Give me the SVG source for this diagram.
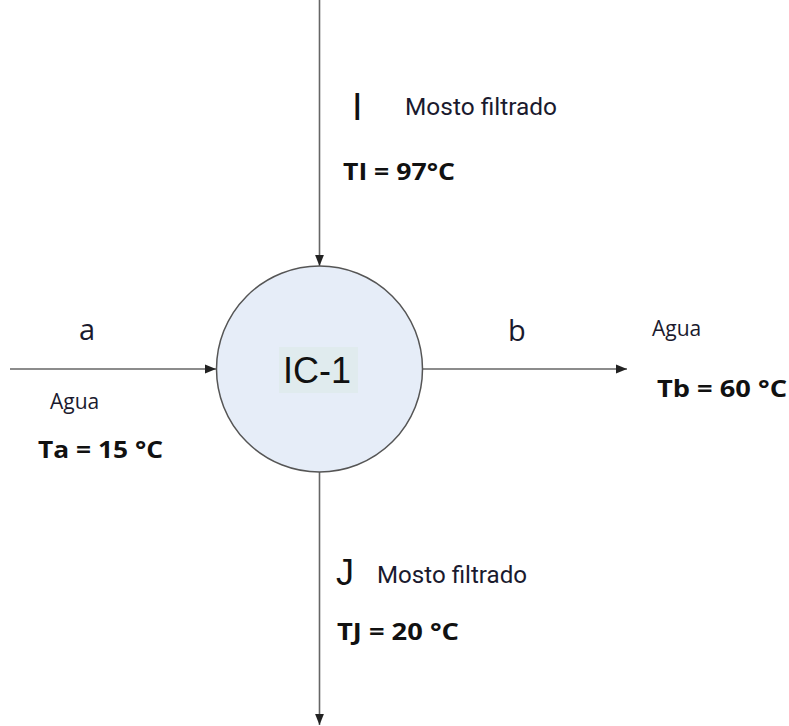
<svg xmlns="http://www.w3.org/2000/svg" width="789" height="726" viewBox="0 0 789 726">
<style>
.ln{stroke:#666;stroke-width:1.6;fill:none}
.lbl{font-family:"Open Sans","Liberation Sans",sans-serif;fill:#1a1a2e}
.ar{font-family:"Liberation Sans",Arial,sans-serif;fill:#111}
.rb{font-family:"Roboto","Liberation Sans",sans-serif;fill:#1a1a2e}
.bd{font-family:"Open Sans","Liberation Sans",sans-serif;font-weight:bold;fill:#111}
</style>
<defs>
<marker id="ah" viewBox="0 0 10 10" refX="10" refY="5" markerWidth="11" markerHeight="11" markerUnits="userSpaceOnUse" orient="auto">
<path d="M0,1 L10,5 L0,9 Z" fill="#222"/>
</marker>
</defs>
<rect width="789" height="726" fill="#fff"/>
<g id="connectors">
<line class="ln" x1="319.5" y1="0" x2="319.5" y2="266" marker-end="url(#ah)"/>
<line class="ln" x1="319.5" y1="472" x2="319.5" y2="725" marker-end="url(#ah)"/>
<line class="ln" x1="10" y1="369" x2="216" y2="369" marker-end="url(#ah)"/>
<line class="ln" x1="423" y1="369" x2="627" y2="369" marker-end="url(#ah)"/>
</g>
<g id="IC-1">
<circle cx="319.5" cy="369" r="103" fill="#e6edf8" stroke="#555" stroke-width="1.5"/>
<rect x="279" y="347" width="79" height="46" fill="#e0ebee"/>
<text class="ar" x="317" y="383" text-anchor="middle" font-size="36">IC-1</text>
</g>
<g id="stream-I">
<text class="ar" x="352" y="120" font-size="38">I</text>
<text class="rb" x="405" y="115" font-size="23" textLength="152" lengthAdjust="spacingAndGlyphs">Mosto filtrado</text>
<text class="bd" x="343" y="180" font-size="23" textLength="112" lengthAdjust="spacingAndGlyphs">TI = 97°C</text>
</g>
<g id="stream-a">
<text class="lbl" x="79" y="340" font-size="29">a</text>
<text class="lbl" x="50" y="409" font-size="21">Agua</text>
<text class="bd" x="38" y="458" font-size="23" textLength="125" lengthAdjust="spacingAndGlyphs">Ta = 15 °C</text>
</g>
<g id="stream-b">
<text class="lbl" x="508" y="341" font-size="29">b</text>
<text class="lbl" x="652" y="336" font-size="21">Agua</text>
<text class="bd" x="657" y="397" font-size="23" textLength="130" lengthAdjust="spacingAndGlyphs">Tb = 60 °C</text>
</g>
<g id="stream-J">
<text class="ar" x="336" y="585" font-size="36">J</text>
<text class="rb" x="377" y="583" font-size="23" textLength="150" lengthAdjust="spacingAndGlyphs">Mosto filtrado</text>
<text class="bd" x="337" y="640" font-size="23" textLength="122" lengthAdjust="spacingAndGlyphs">TJ = 20 °C</text>
</g>
</svg>
